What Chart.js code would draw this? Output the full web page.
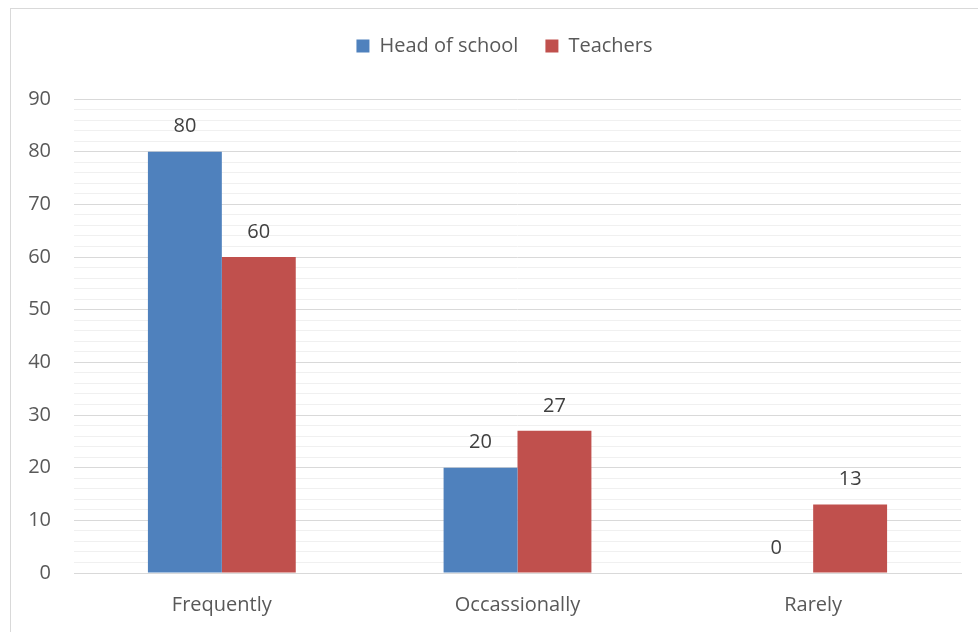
<!DOCTYPE html>
<html>
<head>
<meta charset="utf-8">
<script src="https://cdn.jsdelivr.net/npm/chart.js@4/dist/chart.umd.min.js"></script>
<style>
    html, body { margin: 0; padding: 0; background: #fff; overflow: hidden; }
    #wrap { position: relative; width: 978px; height: 632px; }
    #frame { position: absolute; left: 10px; top: 8px; width: 1000px; height: 1000px; border: 1px solid #d9d9d9; }
    #chart { position: absolute; left: 0; top: 0; }
</style>
</head>
<body>
<div id="wrap">
    <div id="frame"></div>
    <canvas id="chart" width="978" height="632"></canvas>
</div>
<script>
// Données du graphique
const categories = ["Frequently", "Occassionally", "Rarely"];
const headOfSchool = [80, 20, 0];
const teachers = [60, 27, 13];
const yMax = 90;

const textColor = "#595959";
const fontFamily = "'Open Sans', sans-serif";

// Valeurs au-dessus des barres
const valueLabels = {
    id: "valueLabels",
    afterDatasetsDraw(chart) {
        const ctx = chart.ctx;
        ctx.save();
        ctx.font = "20px " + fontFamily;
        ctx.fillStyle = "#404040";
        ctx.textAlign = "center";
        ctx.textBaseline = "middle";
        chart.data.datasets.forEach((ds, i) => {
            chart.getDatasetMeta(i).data.forEach((bar, j) => {
                ctx.fillText(String(ds.data[j]), bar.x, bar.y - 25);
            });
        });
        ctx.restore();
    }
};

// Légende : espace en dessous + centrage décalé (comme dans Excel)
const legendTweak = {
    id: "legendTweak",
    beforeInit(chart) {
        const fit = chart.legend.fit;
        chart.legend.fit = function () {
            fit.call(this);
            this.height += 33;
        };
        const draw = chart.legend.draw;
        chart.legend.draw = function () {
            this.left += 48;
            draw.call(this);
            this.left -= 48;
        };
    }
};

new Chart(document.getElementById("chart"), {
    type: "bar",
    data: {
        labels: categories,
        datasets: [
            { label: "Head of school", data: headOfSchool, backgroundColor: "#4f81bd" },
            { label: "Teachers", data: teachers, backgroundColor: "#c0504d" }
        ]
    },
    options: {
        responsive: false,
        animation: false,
        layout: { padding: { top: 9, left: 0, right: 17, bottom: 0 } },
        datasets: { bar: { categoryPercentage: 0.5, barPercentage: 1 } },
        plugins: {
            legend: {
                position: "top",
                labels: {
                    boxWidth: 13,
                    boxHeight: 13,
                    padding: 27,
                    color: textColor,
                    font: { size: 20, family: fontFamily }
                }
            },
            tooltip: { enabled: false }
        },
        scales: {
            x: {
                grid: { display: false, drawTicks: false },
                border: { color: "#d9d9d9" },
                ticks: { color: textColor, padding: 20, font: { size: 20, family: fontFamily } },
                afterFit(scale) { scale.height = 59; }
            },
            y: {
                min: 0,
                max: yMax,
                grid: {
                    drawTicks: false,
                    color: c => (c.tick.value % 10 === 0 ? "#d9d9d9" : "#f0f0f0")
                },
                border: { display: false },
                ticks: {
                    stepSize: 2,
                    maxTicksLimit: 100,
                    autoSkip: false,
                    padding: 23,
                    color: textColor,
                    font: { size: 20, family: fontFamily },
                    callback: v => (v % 10 === 0 ? v : "")
                },
                afterFit(scale) { scale.width = 74; }
            }
        }
    },
    plugins: [valueLabels, legendTweak]
});
</script>
</body>
</html>
